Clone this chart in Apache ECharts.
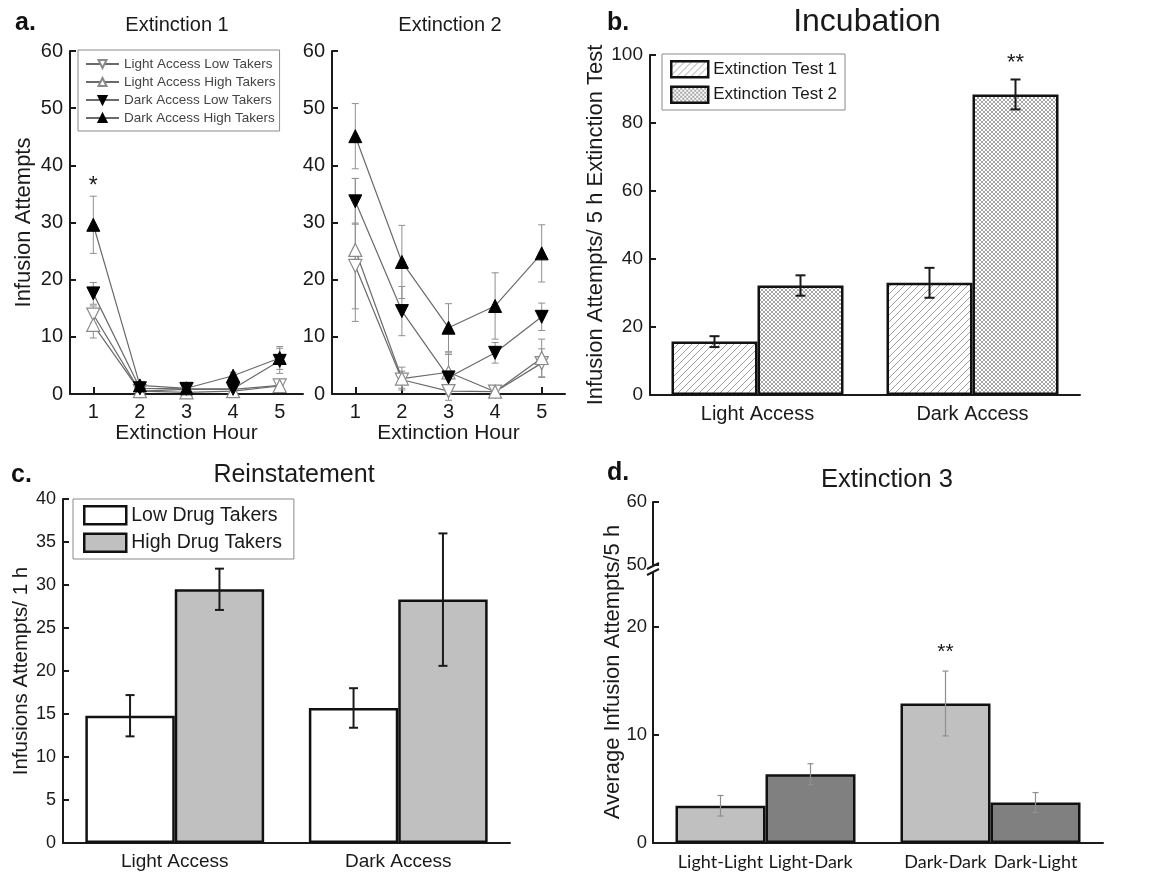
<!DOCTYPE html>
<html>
<head>
<meta charset="utf-8">
<script src="https://cdn.jsdelivr.net/npm/echarts@6/dist/echarts.min.js"></script>
<style>
html, body { margin: 0; padding: 0; background: #fff; }
#main { width: 1155px; height: 875px; }
</style>
</head>
<body>
<div id="main"></div>
<script>
// ---- panel a: extinction sessions (hourly) ----
const hours = ['1', '2', '3', '4', '5'];
const namesA = ['Light Access Low Takers', 'Light Access High Takers', 'Dark Access Low Takers', 'Dark Access High Takers'];

const ext1LightLow = [13.9, 0.5, 0.8, 0.8, 1.5];
const ext1LightLowErr = [1.5, 0.3, 0.3, 0.3, 0.6];
const ext1LightHigh = [12.1, 0.5, 0.3, 0.5, 1.4];
const ext1LightHighErr = [2.3, 0.3, 0.3, 0.3, 0.6];
const ext1DarkLow = [17.6, 1.0, 0.9, 0.9, 5.8];
const ext1DarkLowErr = [1.9, 0.5, 0.4, 0.4, 2.2];
const ext1DarkHigh = [29.6, 1.5, 1.0, 3.2, 6.3];
const ext1DarkHighErr = [5.0, 0.6, 0.5, 0.6, 2.0];
const ext1Notes = ['*', '', '', '', ''];

const ext2LightLow = [22.4, 2.5, 0.5, 0.4, 5.4];
const ext2LightLowErr = [7.5, 1.5, 0.5, 0.3, 2.5];
const ext2LightHigh = [25.2, 2.7, 3.8, 0.4, 6.3];
const ext2LightHighErr = [12.5, 2.0, 3.4, 0.3, 3.3];
const ext2DarkLow = [33.7, 14.5, 2.9, 7.2, 13.5];
const ext2DarkLowErr = [4.0, 4.3, 4.0, 1.8, 2.4];
const ext2DarkHigh = [45.1, 23.1, 11.6, 15.4, 24.6];
const ext2DarkHighErr = [5.7, 6.4, 4.2, 5.8, 5.0];

// ---- panel b: incubation ----
const accessGroups = ['Light Access', 'Dark Access'];
const incubTest1 = [15.7, 33.0];
const incubTest1Err = [1.6, 4.4];
const incubTest2 = [32.2, 88.4];
const incubTest2Err = [3.0, 4.4];
const incubNotes = ['', '**'];

// ---- panel c: reinstatement ----
const reinstLow = [14.8, 15.7];
const reinstLowErr = [2.4, 2.3];
const reinstHigh = [29.5, 28.3];
const reinstHighErr = [2.4, 7.7];

// ---- panel d: extinction 3 ----
const ext3Groups = ['Light', 'Dark'];
const ext3SameLabels = ['Light-Light', 'Dark-Dark'];
const ext3Same = [3.45, 12.92];
const ext3SameErr = [0.95, 3.0];
const ext3SameNotes = ['', '**'];
const ext3SwitchLabels = ['Light-Dark', 'Dark-Light'];
const ext3Switch = [6.37, 3.75];
const ext3SwitchErr = [0.97, 0.92];

const FONT = 'Liberation Sans';
const INK = '#1a1a1a';

function hatch(size, cross, stroke) {
    const c = document.createElement('canvas');
    c.width = size; c.height = size;
    const g = c.getContext('2d');
    g.fillStyle = '#fff';
    g.fillRect(0, 0, size, size);
    g.strokeStyle = stroke;
    g.lineWidth = 1;
    g.beginPath();
    for (let k = -size; k <= size; k += size) {
        g.moveTo(k, size); g.lineTo(k + size, 0);
        if (cross) { g.moveTo(k, 0); g.lineTo(k + size, size); }
    }
    g.stroke();
    return c;
}
const diagPattern = { image: hatch(7, false, '#a0a0a0'), repeat: 'repeat' };
const crossPattern = { image: hatch(4, true, '#a6a6a6'), repeat: 'repeat' };

// error bars drawn through the axis scales
function errSeries(xi, vals, errs, o) {
    return {
        type: 'custom', xAxisIndex: xi, yAxisIndex: xi, z: o.z || 4, silent: true,
        data: vals.map((v, i) => [i, v, errs[i]]),
        renderItem: function (params, api) {
            const i = api.value(0), v = api.value(1), e = api.value(2);
            const band = api.size([1, 0])[0];
            const x = api.coord([i, v])[0] + (o.shift || 0) * band;
            const yt = api.coord([i, v + e])[1];
            const yb = api.coord([i, v - e])[1];
            const st = { stroke: o.color, lineWidth: o.width };
            const kids = [
                { type: 'line', shape: { x1: x, y1: yt, x2: x, y2: yb }, style: st },
                { type: 'line', shape: { x1: x - o.cap, y1: yt, x2: x + o.cap, y2: yt }, style: st },
                { type: 'line', shape: { x1: x - o.cap, y1: yb, x2: x + o.cap, y2: yb }, style: st }
            ];
            const note = o.notes ? o.notes[params.dataIndex] : '';
            if (note) {
                kids.push({ type: 'text', x: x, y: yt - o.noteGap,
                    style: { text: note, fontSize: o.noteSize, fontFamily: FONT, fill: INK, align: 'center', verticalAlign: 'middle' } });
            }
            return { type: 'group', children: kids };
        }
    };
}

function lineSeries(xi, name, vals, down, filled) {
    return {
        type: 'line', name: name, xAxisIndex: xi, yAxisIndex: xi, data: vals, z: 5,
        symbol: 'triangle', symbolSize: 13, symbolRotate: down ? 180 : 0,
        lineStyle: { color: '#6a6a6a', width: 1.2 },
        itemStyle: filled ? { color: '#000', borderColor: '#000', borderWidth: 1 }
                          : { color: '#fff', borderColor: '#8a8a8a', borderWidth: 1.2 },
        emphasis: { disabled: true }
    };
}

function axisY(grid, min, max, interval, size, extra) {
    return Object.assign({
        type: 'value', gridIndex: grid, min: min, max: max, interval: interval,
        axisLine: { show: true, lineStyle: { color: INK, width: 2 } },
        axisTick: { show: true, inside: true, length: 6, lineStyle: { color: INK, width: 2 } },
        axisLabel: { color: INK, fontSize: size, fontFamily: FONT, margin: 7 },
        splitLine: { show: false }
    }, extra || {});
}

function axisX(grid, cats, size, extra) {
    return Object.assign({
        type: 'category', gridIndex: grid, data: cats,
        axisLine: { show: true, onZero: false, lineStyle: { color: INK, width: 2 } },
        axisTick: { show: false },
        axisLabel: { color: INK, fontSize: size, fontFamily: FONT, margin: 9 },
        splitLine: { show: false }
    }, extra || {});
}

const hourTick = { show: true, inside: true, alignWithLabel: true, length: 7, lineStyle: { color: INK, width: 2 } };
const hourLabel = { color: INK, fontSize: 20, fontFamily: FONT, margin: 8 };
const nameFont = (s) => ({ color: INK, fontSize: s, fontFamily: FONT });

function txt(text, x, y, size, extra) {
    return Object.assign({ type: 'text', x: x, y: y, silent: true,
        style: { text: text, fontSize: size, fontFamily: FONT, fill: INK, align: 'center', verticalAlign: 'middle' } }, extra || {});
}
function letter(text, x, y) {
    return { type: 'text', x: x, y: y, silent: true,
        style: { text: text, fontSize: 25, fontWeight: 'bold', fontFamily: FONT, fill: '#111', align: 'left', verticalAlign: 'middle' } };
}

const errA = { color: '#8f8f8f', width: 1, cap: 3.5, noteGap: 10, noteSize: 23, z: 3 };
const dLabel = { show: true, position: 'bottom', distance: 10, color: INK, fontSize: 18, fontFamily: 'Lato' };

const option = {
    animation: false,
    backgroundColor: '#fff',
    textStyle: { fontFamily: FONT },
    grid: [
        { left: 70, top: 51, width: 233, height: 343, outerBoundsMode: 'none' },
        { left: 332, top: 51, width: 233, height: 343, outerBoundsMode: 'none' },
        { left: 650, top: 55, width: 430, height: 340, outerBoundsMode: 'none' },
        { left: 63, top: 499, width: 447, height: 344, outerBoundsMode: 'none' },
        { left: 653, top: 573, width: 450, height: 270, outerBoundsMode: 'none' },
        { left: 653, top: 502, width: 450, height: 63, outerBoundsMode: 'none' }
    ],
    xAxis: [
        axisX(0, hours, 20, { axisTick: hourTick, axisLabel: hourLabel, name: 'Extinction Hour', nameLocation: 'middle', nameGap: 27, nameTextStyle: nameFont(21) }),
        axisX(1, hours, 20, { axisTick: hourTick, axisLabel: hourLabel, name: 'Extinction Hour', nameLocation: 'middle', nameGap: 27, nameTextStyle: nameFont(21) }),
        axisX(2, accessGroups, 20),
        axisX(3, accessGroups, 19),
        axisX(4, ext3Groups, 18, { axisLabel: { show: false } }),
        axisX(5, ext3Groups, 18, { show: false })
    ],
    yAxis: [
        axisY(0, 0, 60, 10, 20, { name: 'Infusion Attempts', nameLocation: 'middle', nameGap: 35, nameTextStyle: nameFont(22) }),
        axisY(1, 0, 60, 10, 20),
        axisY(2, 0, 100, 20, 19, { name: 'Infusion Attempts/ 5 h Extinction Test', nameLocation: 'middle', nameGap: 42, nameTextStyle: nameFont(22) }),
        axisY(3, 0, 40, 5, 18, { name: 'Infusions Attempts/ 1 h', nameLocation: 'middle', nameGap: 30, nameTextStyle: nameFont(20.5) }),
        axisY(4, 0, 25, 10, 18.5, { axisLabel: { color: INK, fontSize: 18.5, fontFamily: FONT, margin: 6, showMaxLabel: false } }),
        axisY(5, 50, 60, 10, 18.5, { axisLabel: { color: INK, fontSize: 18.5, fontFamily: FONT, margin: 6 } })
    ],
    legend: [
        {
            data: namesA, orient: 'vertical', left: 78, top: 50, padding: [7, 4, 6, 7],
            itemWidth: 33, itemHeight: 10, itemGap: 4, selectedMode: false,
            borderColor: '#8a8a8a', borderWidth: 1,
            textStyle: { color: '#444', fontSize: 13.5, fontFamily: FONT }
        },
        {
            data: ['Extinction Test 1', 'Extinction Test 2'], orient: 'vertical', left: 662, top: 54, padding: [6, 8, 6, 8],
            itemWidth: 37, itemHeight: 16, itemGap: 7, selectedMode: false, icon: 'rect',
            borderColor: '#8a8a8a', borderWidth: 1,
            itemStyle: { borderColor: '#111', borderWidth: 2.5 },
            textStyle: { color: INK, fontSize: 17, fontFamily: FONT }
        },
        {
            data: ['Low Drug Takers', 'High Drug Takers'], orient: 'vertical', left: 73, top: 499, padding: [6, 12, 6, 10],
            itemWidth: 42, itemHeight: 18, itemGap: 7, selectedMode: false, icon: 'rect',
            borderColor: '#8a8a8a', borderWidth: 1,
            itemStyle: { borderColor: '#111', borderWidth: 2.5 },
            textStyle: { color: INK, fontSize: 19.5, fontFamily: FONT }
        }
    ],
    series: [
        // a: extinction 1
        errSeries(0, ext1LightLow, ext1LightLowErr, errA),
        errSeries(0, ext1LightHigh, ext1LightHighErr, errA),
        errSeries(0, ext1DarkLow, ext1DarkLowErr, errA),
        errSeries(0, ext1DarkHigh, ext1DarkHighErr, Object.assign({}, errA, { notes: ext1Notes })),
        lineSeries(0, namesA[0], ext1LightLow, true, false),
        lineSeries(0, namesA[1], ext1LightHigh, false, false),
        lineSeries(0, namesA[2], ext1DarkLow, true, true),
        lineSeries(0, namesA[3], ext1DarkHigh, false, true),
        // a: extinction 2
        errSeries(1, ext2LightLow, ext2LightLowErr, errA),
        errSeries(1, ext2LightHigh, ext2LightHighErr, errA),
        errSeries(1, ext2DarkLow, ext2DarkLowErr, errA),
        errSeries(1, ext2DarkHigh, ext2DarkHighErr, errA),
        lineSeries(1, namesA[0], ext2LightLow, true, false),
        lineSeries(1, namesA[1], ext2LightHigh, false, false),
        lineSeries(1, namesA[2], ext2DarkLow, true, true),
        lineSeries(1, namesA[3], ext2DarkHigh, false, true),
        // b: incubation
        {
            type: 'bar', name: 'Extinction Test 1', xAxisIndex: 2, yAxisIndex: 2, data: incubTest1,
            barGap: '0%', barCategoryGap: '20%',
            itemStyle: { color: diagPattern, borderColor: '#111', borderWidth: 2.5 }
        },
        {
            type: 'bar', name: 'Extinction Test 2', xAxisIndex: 2, yAxisIndex: 2, data: incubTest2,
            barGap: '0%', barCategoryGap: '20%',
            itemStyle: { color: crossPattern, borderColor: '#111', borderWidth: 2.5 }
        },
        errSeries(2, incubTest1, incubTest1Err, { shift: -0.2, color: INK, width: 2, cap: 5 }),
        errSeries(2, incubTest2, incubTest2Err, { shift: 0.2, color: INK, width: 2, cap: 5, notes: incubNotes, noteGap: 17, noteSize: 22 }),
        // c: reinstatement
        {
            type: 'bar', name: 'Low Drug Takers', xAxisIndex: 3, yAxisIndex: 3, data: reinstLow,
            barGap: '0%', barCategoryGap: '20%',
            itemStyle: { color: '#fff', borderColor: '#111', borderWidth: 2.5 }
        },
        {
            type: 'bar', name: 'High Drug Takers', xAxisIndex: 3, yAxisIndex: 3, data: reinstHigh,
            barGap: '0%', barCategoryGap: '20%',
            itemStyle: { color: '#c0c0c0', borderColor: '#111', borderWidth: 2.5 }
        },
        errSeries(3, reinstLow, reinstLowErr, { shift: -0.2, color: INK, width: 2, cap: 4.5 }),
        errSeries(3, reinstHigh, reinstHighErr, { shift: 0.2, color: INK, width: 2, cap: 4.5 }),
        // d: extinction 3
        {
            type: 'bar', name: 'same context', xAxisIndex: 4, yAxisIndex: 4, data: ext3Same,
            barGap: '0%', barCategoryGap: '20%',
            itemStyle: { color: '#c0c0c0', borderColor: '#111', borderWidth: 2.5 },
            label: Object.assign({ formatter: (p) => ext3SameLabels[p.dataIndex] }, dLabel)
        },
        {
            type: 'bar', name: 'switched context', xAxisIndex: 4, yAxisIndex: 4, data: ext3Switch,
            barGap: '0%', barCategoryGap: '20%',
            itemStyle: { color: '#808080', borderColor: '#111', borderWidth: 2.5 },
            label: Object.assign({ formatter: (p) => ext3SwitchLabels[p.dataIndex] }, dLabel)
        },
        errSeries(4, ext3Same, ext3SameErr, { shift: -0.2, color: '#8f8f8f', width: 1.2, cap: 3, notes: ext3SameNotes, noteGap: 19, noteSize: 21 }),
        errSeries(4, ext3Switch, ext3SwitchErr, { shift: 0.2, color: '#8f8f8f', width: 1.2, cap: 3 })
    ],
    graphic: [
        letter('a.', 15, 23),
        letter('b.', 607, 23),
        letter('c.', 11, 475),
        letter('d.', 607, 473),
        txt('Extinction 1', 177, 25, 20),
        txt('Extinction 2', 450, 25, 20),
        txt('Incubation', 867, 22, 32),
        txt('Reinstatement', 294, 475, 25),
        txt('Extinction 3', 887, 480, 25.5),
        txt('Average Infusion Attempts/5 h', 613, 672, 22, { rotation: Math.PI / 2 }),
        // axis break marks
        { type: 'line', silent: true, shape: { x1: 647, y1: 569, x2: 659, y2: 563 }, style: { stroke: INK, lineWidth: 2 } },
        { type: 'line', silent: true, shape: { x1: 647, y1: 575, x2: 659, y2: 569 }, style: { stroke: INK, lineWidth: 2 } }
    ]
};

const chart = echarts.init(document.getElementById('main'));
chart.setOption(option);
</script>
</body>
</html>
